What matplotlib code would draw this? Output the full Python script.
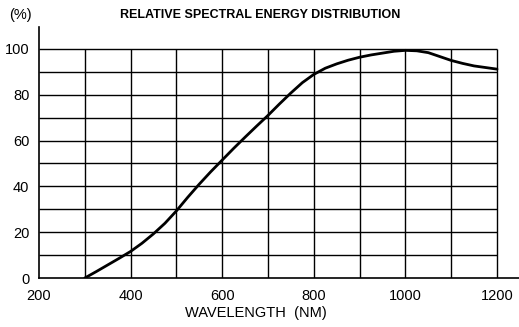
import matplotlib
matplotlib.use("Agg")
import matplotlib.pyplot as plt
import numpy as np

# values (every 25 nm)
wavelength = [300, 325, 350, 375, 400, 425, 450, 475, 500, 525, 550, 575,
              600, 625, 650, 675, 700, 725, 750, 775, 800, 825, 850, 875,
              900, 925, 950, 975, 1000, 1025, 1050, 1075, 1100, 1125, 1150,
              1175, 1200]
relative = [0, 2.8, 5.7, 8.6, 11.6, 15.2, 19.3, 23.9, 29.3, 35.3, 41, 46.4,
            51.5, 56.6, 61.5, 66.3, 71, 76, 80.8, 85.3, 88.9, 91.6, 93.5, 95.1,
            96.4, 97.4, 98.2, 99, 99.4, 99.2, 98.4, 96.7, 95, 93.7, 92.6,
            91.9, 91.2]
xticks = [200, 400, 600, 800, 1000, 1200]
yticks = [0, 20, 40, 60, 80, 100]

plt.rcParams['font.family'] = ['Liberation Sans', 'DejaVu Sans']

fig = plt.figure(figsize=(5.19, 3.27), dpi=100)
ax = fig.add_axes([39/519, 49/327, 480/519, 251/327])
ax.set_xlim(200, 1248)
ax.set_ylim(0, 109.6)

# grid only over the 200-1200 / 0-100 box
ax.hlines(np.arange(10, 101, 10), 200, 1200, color='black', lw=1.0)
ax.vlines(np.arange(300, 1201, 100), 0, 100, color='black', lw=1.0)

ax.plot(wavelength, relative, color='black', lw=2.0,
        solid_capstyle='round', solid_joinstyle='round')

for s in ['top', 'right']:
    ax.spines[s].set_visible(False)
ax.spines['left'].set_linewidth(1.2)
ax.spines['bottom'].set_linewidth(1.2)

ax.set_xticks(xticks)
ax.set_yticks(yticks)
ax.tick_params(length=0, labelsize=10.5)
ax.tick_params(axis='y', pad=7)
ax.tick_params(axis='x', pad=8)

fig.text(20/519, 1 - 15/327, '(%)', ha='center', va='center', fontsize=10.5)
fig.text(260/519, 1 - 15/327, 'RELATIVE SPECTRAL ENERGY DISTRIBUTION',
         ha='center', va='center', fontsize=9, fontweight='bold')
fig.text(256/519, 1 - 313/327, 'WAVELENGTH  (NM)', ha='center', va='center',
         fontsize=10.5)

fig.savefig('out.png', dpi=100)
